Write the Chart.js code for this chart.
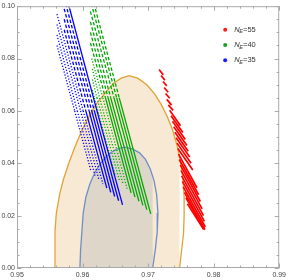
<!DOCTYPE html>
<html><head><meta charset="utf-8">
<script src="https://cdn.jsdelivr.net/npm/chart.js@4/dist/chart.umd.min.js"></script>
<style>html,body{margin:0;padding:0;background:#fff;overflow:hidden}canvas{display:block}</style>
</head><body>
<canvas id="c" width="289" height="280"></canvas>
<script>
// ---- axes ----
const xMin = 0.95, xMax = 0.99, xStep = 0.01;
const yMin = 0.00, yMax = 0.10, yStep = 0.02;

// ---- confidence contours (n_s, r) ----
const outerX = [0.9559,0.9558,0.9558,0.9560,0.9565,0.9571,0.9579,0.9588,0.9598,0.9610,0.9622,0.9635,0.9647,0.9659,0.9671,0.9684,0.9698,0.9710,0.9720,0.9729,0.9737,0.9744,0.9749,0.9753,0.9755,0.9755,0.9754,0.9751,0.9748];
const outerY = [0.0000,0.0070,0.0140,0.0210,0.0280,0.0340,0.0400,0.0460,0.0520,0.0580,0.0630,0.0670,0.0705,0.0725,0.0735,0.0725,0.0700,0.0665,0.0625,0.0580,0.0530,0.0470,0.0410,0.0340,0.0270,0.0200,0.0130,0.0065,0.0000];
const innerX = [0.9596,0.9597,0.9599,0.9601,0.9605,0.9611,0.9618,0.9626,0.9634,0.9643,0.9653,0.9664,0.9676,0.9687,0.9696,0.9703,0.9709,0.9713,0.9715,0.9714,0.9711,0.9707];
const innerY = [0.0000,0.0070,0.0140,0.0210,0.0270,0.0320,0.0360,0.0395,0.0420,0.0440,0.0455,0.0462,0.0455,0.0440,0.0415,0.0380,0.0335,0.0280,0.0210,0.0140,0.0070,0.0000];

// ---- N_E = 35 (blue) ----
const blueTopX = [0.9574,0.9570,0.9572,0.9572,0.9572,0.9561,0.9561,0.9561,0.9561];
const blueTopY = [0.105,0.105,0.099,0.095,0.091,0.097,0.093,0.089,0.085];
const blueMidX = [0.9622,0.9618,0.9614,0.9610,0.9605,0.9601,0.9597,0.9592,0.9588];
const blueMidY = [0.060,0.060,0.060,0.060,0.060,0.060,0.060,0.060,0.060];
const blueBotX = [0.9661,0.9655,0.9649,0.9643,0.9637,0.9631,0.9625,0.9619,0.9613];
const blueBotY = [0.0241,0.0257,0.0273,0.0289,0.0305,0.0321,0.0337,0.0353,0.0369];
const blueStyle = ['solid','split','split','split','split','dotted','dotted','dotted','dotted'];

// ---- N_E = 40 (green) ----
const greenTopX = [0.9613,0.9609,0.9612,0.9612,0.9612,0.9612,0.9614,0.9615,0.9615,0.9615];
const greenTopY = [0.105,0.105,0.098,0.094,0.090,0.086,0.080,0.076,0.072,0.068];
const greenMidX = [0.9656,0.9652,0.9648,0.9643,0.9639,0.9635,0.9631,0.9626,0.9622,0.9618];
const greenMidY = [0.065,0.065,0.065,0.065,0.065,0.065,0.065,0.065,0.065,0.065];
const greenBotX = [0.9704,0.9698,0.9692,0.9686,0.9680,0.9674,0.9668,0.9662,0.9656,0.9650];
const greenBotY = [0.0207,0.0223,0.0239,0.0255,0.0271,0.0287,0.0303,0.0319,0.0335,0.0351];
const greenStyle = ['split','split','split','split','split','split','dotted','dotted','dotted','dotted'];

// ---- N_E = 55 (red) strokes ----
const redX1 = [0.97167,0.97197,0.97227,0.97245,0.97267,0.97285,0.97309,0.97329,0.97350,0.97373,0.97391,0.97409,0.97427,0.97442,0.97453,0.97464,0.97476,0.97491,0.97502,0.97512,0.97524,0.97536,0.97555,0.97577,0.97600];
const redY1 = [0.07579,0.07351,0.07123,0.06896,0.06668,0.06440,0.06232,0.06023,0.05814,0.05605,0.05397,0.05188,0.04979,0.04770,0.04562,0.04353,0.04144,0.03936,0.03727,0.03518,0.03309,0.03101,0.02892,0.02683,0.02455];
const redX2 = [0.97232,0.97256,0.97285,0.97306,0.97330,0.97359,0.97382,0.97494,0.97530,0.97567,0.97592,0.97612,0.97635,0.97656,0.97682,0.97745,0.97771,0.97797,0.97824,0.97845,0.97859,0.97873,0.97867,0.97858,0.97848];
const redY2 = [0.07378,0.07177,0.06956,0.06715,0.06482,0.06220,0.06019,0.05431,0.05173,0.04911,0.04676,0.04459,0.04239,0.04004,0.03746,0.03066,0.02797,0.02539,0.02258,0.02000,0.01780,0.01567,0.01469,0.01488,0.01469];

// ---- legend ----
const legendNE = ['55','40','35'];
const legendColors = ['#ff1a1a','#1aa01a','#1a1aff'];

const RED = '#ff0000', GREEN = '#00a800', BLUE = '#0000ff';
const DOT = [1.2, 1.8], DASH = [3.5, 2];

function pts(xs, ys){ return xs.map((x,i)=>({x:x, y:ys[i]})); }
function seg(p, color, width, dash, order){
  return {type:'line', data:p, borderColor:color, borderWidth:width, borderDash:dash||[],
          pointRadius:0, fill:false, tension:0, order:order, clip:0};
}

const datasets = [];
datasets.push({type:'line', data:pts(outerX,outerY), borderColor:'#e3a233', borderWidth:1.3,
  backgroundColor:'rgba(248,233,212,1)', fill:'origin', pointRadius:0, tension:0, order:10, clip:0});
datasets.push({type:'line', data:pts(innerX,innerY), borderColor:'#6e8fc6', borderWidth:1.3,
  backgroundColor:'rgba(222,215,201,1)', fill:'origin', pointRadius:0, tension:0, order:9, clip:0});

function family(tx,ty,mx,my,bx,by,style,color,width){
  for (let i=0;i<tx.length;i++){
    const upper = [{x:tx[i],y:ty[i]},{x:mx[i],y:my[i]}];
    const lower = [{x:mx[i],y:my[i]},{x:bx[i],y:by[i]}];
    const s = style[i];
    datasets.push(seg(upper, color, width, s==='solid'?[]:(s==='split'?DASH:DOT), 1));
    datasets.push(seg(lower, color, width, s==='dotted'?DOT:[], 1));
  }
}
family(blueTopX,blueTopY,blueMidX,blueMidY,blueBotX,blueBotY,blueStyle,BLUE,1.3);
family(greenTopX,greenTopY,greenMidX,greenMidY,greenBotX,greenBotY,greenStyle,GREEN,1.3);
for (let i=0;i<redX1.length;i++){
  datasets.push(seg([{x:redX1[i],y:redY1[i]},{x:redX2[i],y:redY2[i]}], RED, 1.7, [], 1));
}

const framePlugin = {
  id:'frame',
  afterDatasetsDraw(chart){
    const {ctx, chartArea:a, scales:{x, y}} = chart;
    ctx.save();
    ctx.strokeStyle = '#a9a9a9';
    ctx.lineWidth = 1;
    ctx.strokeRect(a.left+0.5, a.top+0.5, a.right-a.left-1, a.bottom-a.top-1);
    ctx.beginPath();
    for (let i=0;i<=20;i++){
      const v = (950 + 2*i)/1000;
      const px = Math.round(x.getPixelForValue(v))+0.5;
      const L = (i%5===0) ? 4.5 : 2.5;
      ctx.moveTo(px, a.bottom); ctx.lineTo(px, a.bottom-L);
      ctx.moveTo(px, a.top); ctx.lineTo(px, a.top+L);
    }
    for (let i=0;i<=20;i++){
      const v = (5*i)/1000;
      const py = Math.round(y.getPixelForValue(v))+0.5;
      const L = (i%4===0) ? 4.5 : 2.5;
      ctx.moveTo(a.left, py); ctx.lineTo(a.left+L, py);
      ctx.moveTo(a.right, py); ctx.lineTo(a.right-L, py);
    }
    ctx.stroke();
    ctx.restore();
  },
  afterDraw(chart){
    const {ctx, chartArea:a} = chart;
    ctx.save();
    const dx = a.right - 54, tx = a.right - 45;
    for (let i=0;i<legendNE.length;i++){
      const cy = a.top + 23.5 + i*15.3;
      ctx.fillStyle = legendColors[i];
      ctx.beginPath(); ctx.arc(dx, cy, 2, 0, Math.PI*2); ctx.fill();
      ctx.fillStyle = '#333';
      ctx.textBaseline = 'middle';
      ctx.font = 'italic 7.5px "Liberation Sans", Arial, sans-serif';
      ctx.fillText('N', tx, cy);
      let w = ctx.measureText('N').width;
      ctx.font = 'italic 5.5px "Liberation Sans", Arial, sans-serif';
      ctx.fillText('E', tx + w - 0.3, cy + 2);
      const w2 = ctx.measureText('E').width;
      ctx.font = '7.5px "Liberation Sans", Arial, sans-serif';
      ctx.fillText('=' + legendNE[i], tx + w + w2 - 0.2, cy);
    }
    ctx.restore();
  }
};

new Chart(document.getElementById('c'), {
  type:'line',
  data:{datasets:datasets},
  options:{
    responsive:false, animation:false, devicePixelRatio:1,
    layout:{padding:{top:4, right:8, left:0, bottom:0}},
    plugins:{legend:{display:false}, tooltip:{enabled:false}},
    elements:{line:{borderCapStyle:'butt'}},
    scales:{
      x:{type:'linear', min:xMin, max:xMax,
         ticks:{stepSize:xStep, padding:3, maxRotation:0, autoSkip:false, color:'#444',
                font:{family:'"Liberation Sans", Arial, sans-serif', size:7},
                callback:v=>Number(v).toFixed(2)},
         grid:{display:false, drawTicks:false}, border:{display:false},
         afterFit:s=>{s.height = 12;}},
      y:{type:'linear', min:yMin, max:yMax,
         ticks:{stepSize:yStep, padding:2, color:'#444',
                font:{family:'"Liberation Sans", Arial, sans-serif', size:7},
                callback:v=>Number(v).toFixed(2)},
         grid:{display:false, drawTicks:false}, border:{display:false},
         afterFit:s=>{s.width = 17;}}
    }
  },
  plugins:[framePlugin]
});
</script>
</body></html>
